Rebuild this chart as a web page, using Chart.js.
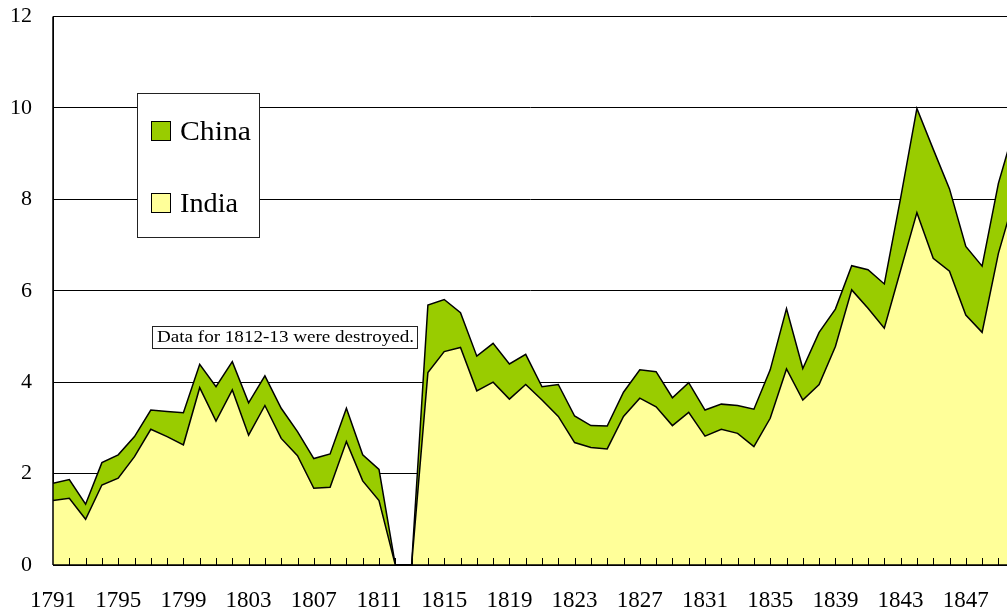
<!DOCTYPE html>
<html><head><meta charset="utf-8">
<script src="https://cdn.jsdelivr.net/npm/chart.js@4/dist/chart.umd.min.js"></script>
<style>html,body{margin:0;padding:0;background:#fff;overflow:hidden}#wrap{width:1007px;height:613px;position:relative}</style>
</head><body><div id="wrap"><canvas id="c" width="1007" height="613"></canvas></div>
<script>
const years = [1791,1792,1793,1794,1795,1796,1797,1798,1799,1800,1801,1802,1803,1804,1805,1806,1807,1808,1809,1810,
  1811,1812,1813,1814,1815,1816,1817,1818,1819,1820,1821,1822,1823,1824,1825,1826,1827,1828,1829,1830,
  1831,1832,1833,1834,1835,1836,1837,1838,1839,1840,1841,1842,1843,1844,1845,1846,1847,1848,1849,1850];
const india = [1.41,1.46,1.00,1.75,1.90,2.37,2.97,2.81,2.63,3.88,3.15,3.83,2.84,3.49,2.77,2.39,1.68,1.70,2.70,1.84,
  1.41,0,0,4.21,4.67,4.76,3.81,4.00,3.63,3.95,3.61,3.25,2.68,2.57,2.54,3.25,3.65,3.46,3.05,3.34,
  2.82,2.97,2.88,2.59,3.21,4.29,3.61,3.95,4.78,6.02,5.62,5.18,6.45,7.71,6.71,6.43,5.47,5.09,6.82,8.05];
const china = [0.38,0.41,0.33,0.49,0.51,0.44,0.42,0.55,0.70,0.51,0.75,0.62,0.71,0.65,0.66,0.53,0.65,0.73,0.73,0.57,
  0.68,0,0,1.48,1.14,0.76,0.76,0.85,0.77,0.66,0.29,0.70,0.58,0.48,0.50,0.53,0.62,0.77,0.61,0.65,
  0.57,0.55,0.61,0.82,1.06,1.32,0.69,1.14,0.82,0.53,0.84,0.97,1.58,2.28,2.39,1.80,1.50,1.45,1.53,1.53];
const xLabelYears = [1791,1795,1799,1803,1807,1811,1815,1819,1823,1827,1831,1835,1839,1843,1847];
const yTicks = [0,2,4,6,8,10,12];
const seriesNames = ['China','India'];
const noteText = 'Data for 1812-13 were destroyed.';

const COL_CHINA = '#99CC00', COL_INDIA = '#FFFF99';
const FONT = '"Liberation Serif", "Times New Roman", serif';

const overlay = {
  id: 'overlay',
  afterDatasetsDraw(chart) {
    const ctx = chart.ctx, a = chart.chartArea, xs = chart.scales.x;
    ctx.save();
    ctx.strokeStyle = '#000'; ctx.lineWidth = 1;
    ctx.beginPath();
    years.forEach(yr => {
      if (yr <= 1791) return;
      const px = Math.round(xs.getPixelForValue(yr)) + 0.5;
      if (px > a.right) return;
      ctx.moveTo(px, a.bottom); ctx.lineTo(px, a.bottom - 7);
    });
    ctx.stroke();
    ctx.lineWidth = 1.5;
    ctx.beginPath();
    ctx.moveTo(a.left, a.bottom); ctx.lineTo(a.right, a.bottom);
    ctx.moveTo(a.left, a.top); ctx.lineTo(a.left, a.bottom);
    ctx.stroke();

    ctx.lineWidth = 1;
    ctx.fillStyle = '#fff'; ctx.strokeStyle = '#222';
    ctx.fillRect(137.5, 93.5, 122, 144); ctx.strokeRect(137.5, 93.5, 122, 144);
    const items = [[seriesNames[0], COL_CHINA, 132, 71], [seriesNames[1], COL_INDIA, 204, 58]];
    ctx.font = '28px ' + FONT; ctx.textBaseline = 'middle'; ctx.textAlign = 'left';
    items.forEach(([t, c, cy, w]) => {
      ctx.fillStyle = c; ctx.strokeStyle = '#000';
      ctx.fillRect(151.5, cy - 10.5, 19, 19); ctx.strokeRect(151.5, cy - 10.5, 19, 19);
      ctx.fillStyle = '#000';
      const m = ctx.measureText(t).width;
      ctx.save(); ctx.translate(180, cy + 1); ctx.scale(w / m, 1); ctx.fillText(t, 0, 0); ctx.restore();
    });

    ctx.fillStyle = '#fff'; ctx.strokeStyle = '#222';
    ctx.fillRect(152.5, 326.5, 265, 22); ctx.strokeRect(152.5, 326.5, 265, 22);
    ctx.font = '16px ' + FONT; ctx.fillStyle = '#000';
    const nm = ctx.measureText(noteText).width;
    ctx.save(); ctx.translate(157, 338); ctx.scale(257 / nm, 1); ctx.fillText(noteText, 0, 0); ctx.restore();
    ctx.restore();
  }
};

new Chart(document.getElementById('c'), {
  type: 'line',
  data: {
    datasets: [
      { label: seriesNames[1], data: years.map((x, i) => ({x, y: india[i]})),
        backgroundColor: COL_INDIA, borderColor: '#000', borderWidth: 1.5, fill: 'origin',
        pointRadius: 0, tension: 0 },
      { label: seriesNames[0], data: years.map((x, i) => ({x, y: china[i]})),
        backgroundColor: COL_CHINA, borderColor: '#000', borderWidth: 1.5, fill: '-1',
        pointRadius: 0, tension: 0 }
    ]
  },
  options: {
    responsive: false, animation: false,
    layout: { padding: { left: 0, right: 0, top: 16.6, bottom: 0 } },
    plugins: { legend: { display: false }, tooltip: { enabled: false } },
    scales: {
      x: {
        type: 'linear', min: 1791, max: 1791 + 954 / 16.3, bounds: 'data',
        afterBuildTicks: s => { s.ticks = years.filter(v => v <= 1849).map(v => ({ value: v })); },
        afterFit: s => { s.height = 48; s.paddingRight = 0; s.paddingLeft = 0; },
        ticks: { autoSkip: false, maxRotation: 0, minRotation: 0, padding: 14, color: '#000',
          font: { family: FONT, size: 23 },
          callback: v => xLabelYears.includes(v) ? String(v) : '' },
        grid: { display: false },
        border: { display: true, color: '#000', width: 1 }
      },
      y: {
        stacked: true, min: 0, max: 12,
        afterBuildTicks: s => { s.ticks = yTicks.map(v => ({ value: v })); },
        afterFit: s => { s.width = 53; s.paddingTop = 0; s.paddingBottom = 0; },
        ticks: { padding: 21, color: '#000', font: { family: FONT, size: 22 } },
        grid: { color: '#000', lineWidth: 1, drawTicks: false },
        border: { display: true, color: '#000', width: 1 }
      }
    }
  },
  plugins: [overlay]
});
</script>
</body></html>
